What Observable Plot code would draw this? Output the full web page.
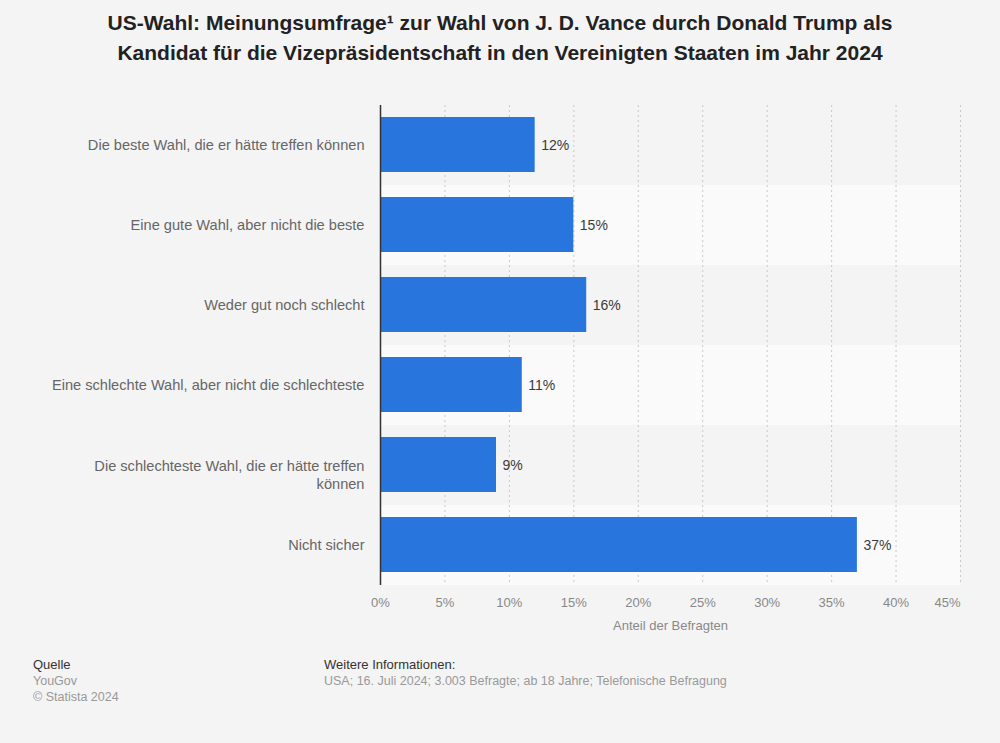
<!DOCTYPE html>
<html><head><meta charset="utf-8">
<script src="https://cdn.jsdelivr.net/npm/d3@7"></script>
<script src="https://cdn.jsdelivr.net/npm/@observablehq/plot@0.6"></script>
<style>
body{margin:0;background:#f4f4f4;font-family:"Liberation Sans",Arial,sans-serif;width:1000px;height:743px;position:relative;overflow:hidden}
#title{position:absolute;left:0;top:8px;width:1000px;text-align:center;font-family:"Liberation Sans Narrow","Liberation Sans",Arial,sans-serif;font-weight:bold;font-size:21px;line-height:30px;color:#222}
#chart{position:absolute;left:0;top:90px}
.foot{position:absolute;font-size:12.5px;line-height:16px;color:#999}
.foot b{font-weight:normal;color:#333;font-size:13px}
</style></head><body>
<div id="title">US-Wahl: Meinungsumfrage¹ zur Wahl von J. D. Vance durch Donald Trump als<br>Kandidat für die Vizepräsidentschaft in den Vereinigten Staaten im Jahr 2024</div>
<div id="chart"></div>
<div class="foot" style="left:33px;top:657px"><b>Quelle</b><br>YouGov<br>© Statista 2024</div>
<div class="foot" style="left:324px;top:657px"><b>Weitere Informationen:</b><br>USA; 16. Juli 2024; 3.003 Befragte; ab 18 Jahre; Telefonische Befragung</div>
<script>
const categories = [
  "Die beste Wahl, die er hätte treffen können",
  "Eine gute Wahl, aber nicht die beste",
  "Weder gut noch schlecht",
  "Eine schlechte Wahl, aber nicht die schlechteste",
  "Die schlechteste Wahl, die er hätte treffen können",
  "Nicht sicher"
];
const values = [12, 15, 16, 11, 9, 37];
const xTicks = [0, 5, 10, 15, 20, 25, 30, 35, 40, 45];
const xLabel = "Anteil der Befragten";

const data = categories.map((c, i) => ({category: c, value: values[i], idx: i}));
const wrapped = {"Die schlechteste Wahl, die er hätte treffen können": "Die schlechteste Wahl, die er hätte treffen\nkönnen"};
const single = categories.filter(c => !wrapped[c]);
const multi = categories.filter(c => wrapped[c]);

const chart = Plot.plot({
  width: 1000,
  height: 560,
  marginTop: 15,
  marginBottom: 65,
  marginLeft: 380,
  marginRight: 40,
  style: {background: "transparent", fontFamily: "'Liberation Sans', Arial, sans-serif"},
  x: {domain: [0, 45]},
  y: {domain: categories, padding: 0},
  marks: [
    Plot.barX(data, {y: "category", x1: 0, x2: 45, fill: d => d.idx % 2 ? "#fafafa" : "#f4f4f4"}),
    Plot.ruleX(xTicks.slice(1), {stroke: "#c8c8c8", strokeDasharray: "2,3", strokeWidth: 1}),
    Plot.barX(data, {y: "category", x: "value", fill: "#2876dd", insetTop: 12, insetBottom: 13}),
    Plot.text(data, {y: "category", x: "value", text: d => d.value + "%", dx: 6, textAnchor: "start", fill: "#3a3a3a", fontSize: 14}),
    Plot.text(single, {y: d => d, frameAnchor: "left", dx: -16, textAnchor: "end", fill: "#666", fontSize: 14.6}),
    Plot.text(multi, {y: d => d, text: d => wrapped[d], frameAnchor: "left", dx: -16, dy: 9, lineHeight: 1.25, textAnchor: "end", fill: "#666", fontSize: 14.6}),
    Plot.ruleX([0], {stroke: "#333", strokeWidth: 1.5}),
    Plot.axisX(xTicks.slice(0, -1), {tickSize: 0, tickPadding: 12, tickFormat: d => d + "%", fill: "#888", fontSize: 13, label: null}),
    Plot.axisX(xTicks.slice(-1), {tickSize: 0, tickPadding: 12, tickFormat: d => d + "%", textAnchor: "end", fill: "#888", fontSize: 13, label: null}),
    Plot.text([xLabel], {frameAnchor: "bottom", dy: 44, fill: "#888", fontSize: 13}),
    Plot.axisY({ticks: [], label: null, tickSize: 0})
  ]
});
document.getElementById("chart").appendChild(chart);
</script>
</body></html>
